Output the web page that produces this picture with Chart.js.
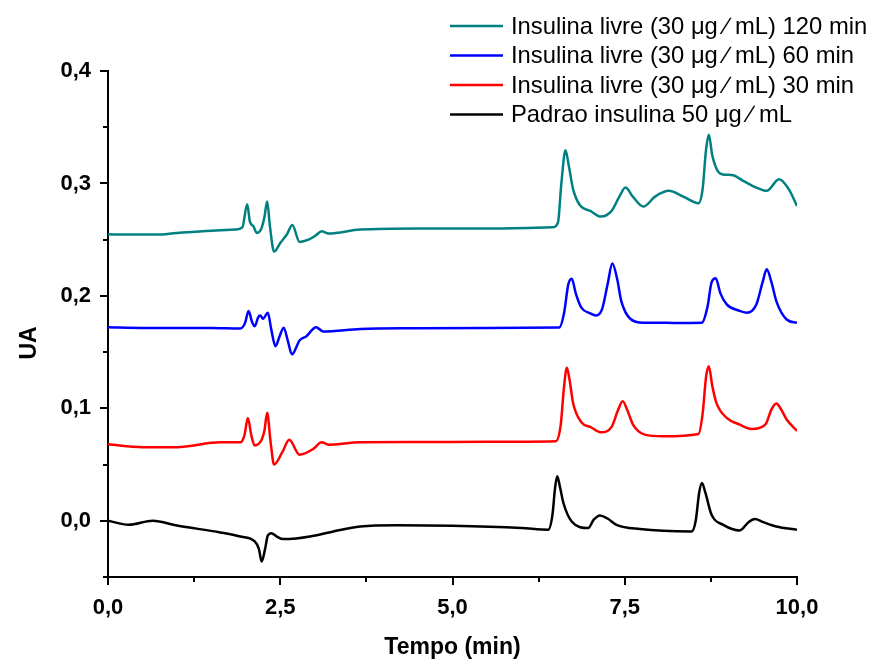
<!DOCTYPE html>
<html>
<head>
<meta charset="utf-8">
<script src="https://cdn.jsdelivr.net/npm/chart.js@4/dist/chart.umd.min.js"></script>
<style>
  html, body { margin: 0; padding: 0; background: #ffffff; }
  #c { display: block; }
</style>
</head>
<body>
<canvas id="c" width="874" height="661"></canvas>
<script>
// ---- Data (time in min, absorbance UA) ----
const seriesLabels = [
  "Insulina livre (30 \u03bcg \u2215 mL) 120 min",
  "Insulina livre (30 \u03bcg \u2215 mL) 60 min",
  "Insulina livre (30 \u03bcg \u2215 mL) 30 min",
  "Padrao insulina 50 \u03bcg \u2215 mL"
];
const seriesColors = ["#008080", "#0000ff", "#ff0000", "#000000"];

const t120 = [0, 0.3, 0.7, 1.0, 1.5, 1.85, 1.95, 2.02, 2.06, 2.11, 2.16, 2.22, 2.27, 2.31, 2.35, 2.41, 2.5, 2.6, 2.675, 2.78, 2.91, 3.02, 3.10, 3.20, 3.66, 4.5, 5.5, 6.45, 6.53, 6.58, 6.64, 6.69, 6.75, 6.85, 7.0, 7.15, 7.31, 7.42, 7.51, 7.62, 7.77, 7.94, 8.14, 8.35, 8.57, 8.63, 8.68, 8.72, 8.77, 8.84, 8.91, 9.07, 9.22, 9.41, 9.56, 9.74, 9.88, 10.0];
const v120 = [0.2548, 0.2545, 0.2545, 0.2560, 0.2580, 0.2590, 0.2610, 0.2815, 0.2660, 0.2620, 0.2560, 0.2590, 0.2700, 0.2840, 0.2620, 0.2395, 0.2470, 0.2550, 0.2630, 0.2480, 0.2500, 0.2540, 0.2575, 0.2555, 0.2590, 0.2600, 0.2600, 0.2610, 0.2650, 0.3000, 0.3295, 0.3150, 0.2950, 0.2806, 0.2756, 0.2705, 0.2756, 0.2880, 0.2963, 0.2880, 0.2794, 0.2883, 0.2934, 0.2883, 0.2824, 0.2950, 0.3300, 0.3433, 0.3250, 0.3120, 0.3082, 0.3073, 0.3023, 0.2963, 0.2934, 0.3038, 0.2950, 0.2800];

const t60 = [0, 0.5, 1.0, 1.5, 1.92, 1.99, 2.04, 2.09, 2.13, 2.18, 2.21, 2.25, 2.32, 2.37, 2.43, 2.49, 2.55, 2.61, 2.67, 2.78, 2.88, 3.02, 3.12, 3.66, 4.5, 5.5, 6.55, 6.62, 6.68, 6.73, 6.79, 6.87, 7.0, 7.08, 7.17, 7.25, 7.32, 7.39, 7.45, 7.58, 7.77, 8.2, 8.62, 8.70, 8.76, 8.82, 8.89, 8.98, 9.15, 9.27, 9.41, 9.50, 9.56, 9.63, 9.70, 9.85, 10.0];
const v60 = [0.1720, 0.1715, 0.1715, 0.1715, 0.1710, 0.1760, 0.1865, 0.1770, 0.1730, 0.1810, 0.1826, 0.1797, 0.1850, 0.1700, 0.1553, 0.1640, 0.1717, 0.1600, 0.1480, 0.1604, 0.1642, 0.1722, 0.1684, 0.1705, 0.1712, 0.1715, 0.1718, 0.1850, 0.2100, 0.2153, 0.2020, 0.1895, 0.1845, 0.1826, 0.1880, 0.2100, 0.2287, 0.2150, 0.1954, 0.1797, 0.1761, 0.1760, 0.1762, 0.1900, 0.2120, 0.2156, 0.2020, 0.1924, 0.1870, 0.1850, 0.1924, 0.2120, 0.2236, 0.2120, 0.1954, 0.1790, 0.1760];

const t30 = [0, 0.5, 1.0, 1.63, 1.92, 1.98, 2.03, 2.08, 2.13, 2.23, 2.27, 2.31, 2.36, 2.41, 2.53, 2.63, 2.78, 2.98, 3.10, 3.20, 3.66, 4.5, 5.5, 6.5, 6.57, 6.62, 6.66, 6.70, 6.75, 6.87, 7.0, 7.15, 7.31, 7.40, 7.47, 7.54, 7.62, 7.79, 8.06, 8.57, 8.63, 8.68, 8.72, 8.77, 8.83, 8.98, 9.17, 9.34, 9.54, 9.63, 9.70, 9.77, 9.85, 10.0];
const v30 = [0.0680, 0.0655, 0.0655, 0.0698, 0.0698, 0.0760, 0.0915, 0.0760, 0.0670, 0.0720, 0.0800, 0.0960, 0.0700, 0.0500, 0.0610, 0.0720, 0.0588, 0.0639, 0.0698, 0.0677, 0.0698, 0.0700, 0.0702, 0.0707, 0.0850, 0.1200, 0.1360, 0.1250, 0.1048, 0.0876, 0.0835, 0.0787, 0.0835, 0.0980, 0.1063, 0.0980, 0.0855, 0.0766, 0.0751, 0.0772, 0.0950, 0.1280, 0.1375, 0.1200, 0.1048, 0.0915, 0.0855, 0.0817, 0.0855, 0.0990, 0.1042, 0.0990, 0.0900, 0.0800];

const t50 = [0, 0.3, 0.65, 1.0, 1.63, 1.92, 2.13, 2.19, 2.23, 2.28, 2.32, 2.37, 2.45, 2.54, 2.73, 2.93, 3.27, 3.66, 4.2, 5.0, 6.0, 6.39, 6.45, 6.49, 6.52, 6.56, 6.61, 6.73, 6.97, 7.05, 7.14, 7.25, 7.38, 7.72, 8.47, 8.53, 8.58, 8.62, 8.67, 8.76, 8.93, 9.17, 9.30, 9.39, 9.50, 9.70, 10.0];
const v50 = [0.0000, -0.0035, 0.0000, -0.0042, -0.0104, -0.0140, -0.0184, -0.0250, -0.0362, -0.0250, -0.0130, -0.0110, -0.0140, -0.0163, -0.0157, -0.0140, -0.0095, -0.0051, -0.0040, -0.0045, -0.0065, -0.0080, 0.0050, 0.0300, 0.0395, 0.0300, 0.0158, -0.0006, -0.0065, 0.0010, 0.0048, 0.0020, -0.0036, -0.0074, -0.0095, 0.0000, 0.0250, 0.0336, 0.0250, 0.0053, -0.0036, -0.0086, -0.0010, 0.0015, -0.0010, -0.0051, -0.0080];

// Axis settings
const xMin = 0, xMax = 10, xStep = 1.25, xMajor = 2.5;
const yMin = -0.05, yMax = 0.4, yStep = 0.05, yMajor = 0.1;
const xTitle = "Tempo (min)";
const yTitle = "UA";

// ---- Build chart ----
const times = [t120, t60, t30, t50];
const values = [v120, v60, v30, v50];
const datasets = seriesLabels.map((lab, k) => ({
  label: lab,
  data: times[k].map((t, i) => ({ x: t, y: values[k][i] })),
  borderColor: seriesColors[k],
  backgroundColor: seriesColors[k],
  borderWidth: 2.5,
  pointRadius: 0,
  fill: false,
  cubicInterpolationMode: 'monotone'
}));

const fmt = v => v.toFixed(1).replace('.', ',');
const isMajor = (v, step) => Math.abs(v / step - Math.round(v / step)) < 1e-6;

const FONT = "'Liberation Sans', Arial, sans-serif";
const tickFont = { family: FONT, size: 22, weight: 'bold' };

const decor = {
  id: 'decor',
  afterDraw(chart) {
    const ctx = chart.ctx;
    const xs = chart.scales.x, ys = chart.scales.y;
    const area = chart.chartArea;
    ctx.save();
    ctx.strokeStyle = '#000';
    ctx.lineWidth = 2;
    ctx.lineCap = 'butt';
    // x ticks (outward, down)
    xs.ticks.forEach(tk => {
      const px = Math.round(xs.getPixelForValue(tk.value));
      const len = isMajor(tk.value, xMajor) ? 8 : 5;
      ctx.beginPath();
      ctx.moveTo(px, area.bottom);
      ctx.lineTo(px, area.bottom + len);
      ctx.stroke();
    });
    // y ticks (outward, left)
    ys.ticks.forEach(tk => {
      const py = Math.round(ys.getPixelForValue(tk.value));
      const len = isMajor(tk.value, yMajor) ? 8 : 5;
      ctx.beginPath();
      ctx.moveTo(area.left, py);
      ctx.lineTo(area.left - len, py);
      ctx.stroke();
    });
    // y title
    ctx.fillStyle = '#000';
    ctx.font = "bold 23px " + FONT;
    ctx.textAlign = 'center';
    ctx.textBaseline = 'middle';
    ctx.translate(30, 343);
    ctx.rotate(-Math.PI / 2);
    ctx.fillText(yTitle, 0, 0);
    ctx.restore();

    // legend
    ctx.save();
    ctx.font = "23.8px " + FONT;
    ctx.textAlign = 'left';
    ctx.textBaseline = 'middle';
    const rows = [26, 55.5, 85, 114.5];
    chart.data.datasets.forEach((ds, i) => {
      const y = rows[i];
      ctx.strokeStyle = ds.borderColor;
      ctx.lineWidth = 2.5;
      ctx.beginPath();
      ctx.moveTo(450, y);
      ctx.lineTo(503, y);
      ctx.stroke();
      ctx.fillStyle = '#000';
      ctx.fillText(ds.label, 511, y + 1);
    });
    ctx.restore();
  }
};

new Chart(document.getElementById('c'), {
  type: 'line',
  data: { datasets },
  options: {
    responsive: false,
    animation: false,
    devicePixelRatio: 1,
    layout: { padding: { top: 71, right: 77, left: 0, bottom: 0 } },
    plugins: { legend: { display: false }, tooltip: { enabled: false } },
    scales: {
      x: {
        type: 'linear',
        min: xMin, max: xMax,
        afterFit: s => { s.height = 84; },
        afterBuildTicks: s => {
          const arr = [];
          for (let v = xMin; v <= xMax + 1e-9; v += xStep) arr.push({ value: +v.toFixed(4) });
          s.ticks = arr;
        },
        grid: { display: false },
        border: { display: true, color: '#000', width: 2 },
        ticks: {
          autoSkip: false, maxRotation: 0, padding: 10, color: '#000', font: tickFont,
          callback: v => isMajor(v, xMajor) ? fmt(v) : ''
        },
        title: {
          display: true, text: xTitle, color: '#000',
          font: { family: FONT, size: 23, weight: 'bold' },
          padding: { top: 0, bottom: 0 }
        }
      },
      y: {
        type: 'linear',
        min: yMin, max: yMax,
        afterFit: s => { s.width = 108; },
        afterBuildTicks: s => {
          const arr = [];
          for (let k = 0; k <= Math.round((yMax - yMin) / yStep); k++) arr.push({ value: +(yMin + k * yStep).toFixed(4) });
          s.ticks = arr;
        },
        grid: { display: false },
        border: { display: true, color: '#000', width: 2 },
        ticks: {
          autoSkip: false, padding: 9, color: '#000', font: tickFont,
          callback: v => isMajor(v, yMajor) ? fmt(v) : ''
        }
      }
    }
  },
  plugins: [decor]
});
</script>
</body>
</html>
